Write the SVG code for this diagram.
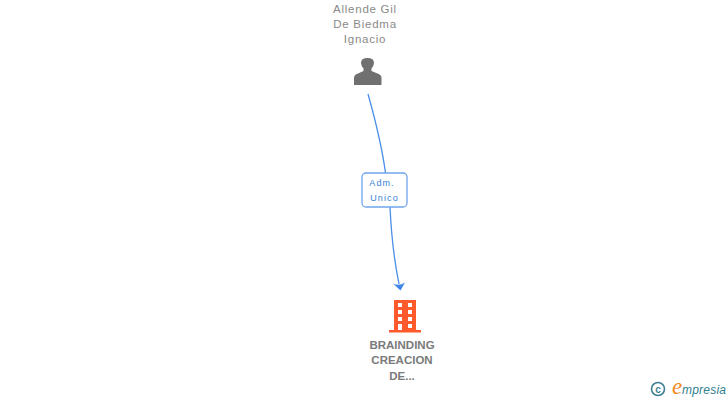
<svg xmlns="http://www.w3.org/2000/svg" width="728" height="400" viewBox="0 0 728 400">
<style>
.p{font:11.5px "Liberation Sans",Arial,sans-serif;fill:#8a8a8a;text-anchor:middle;letter-spacing:.75px}
.c{font:bold 11.5px "Liberation Sans",Arial,sans-serif;fill:#7a7a7a;text-anchor:middle}
.l{font:9px "Liberation Sans",Arial,sans-serif;fill:#3a7fd5;text-anchor:middle;letter-spacing:1.1px}
.e{fill:none;stroke:#4a8fe7;stroke-width:1.3}
</style>
<rect width="728" height="400" fill="#fff"/>
<g id="connectors">
<path class="e" d="M368 94Q381 140 385.500 173"/>
<path class="e" d="M390 207Q392 250 399 284"/>
<path d="M393 283.500Q399 286.500 405 282.500L400.500 290.500Z" fill="#3f86e8"/>
<g id="edge-label">
<rect x="362" y="173" width="45" height="34" rx="4" fill="#fff" stroke="#6fa5ee" stroke-width="1.300"/>
<text class="l" x="382" y="186">Adm.</text>
<text class="l" x="384.500" y="201">Unico</text>
</g>
</g>
<g id="person">
<text class="p" x="365" y="13">Allende Gil</text>
<text class="p" x="365" y="28">De Biedma</text>
<text class="p" x="365" y="43">Ignacio</text>
<path d="M354 85V78Q354 74.500 358 73.500L363.500 71V68.500Q361 65.500 361 63Q361 58 367.500 58Q374 58 374 63Q374 65.500 371.500 68.500V71L377.500 73.500Q381.500 74.500 381.500 78V85Z" fill="#707070"/>
</g>
<g id="company">
<path fill-rule="evenodd" fill="#ff5a2b" d="M394 300H416V330H421V332.500H389V330H394ZM398 303V307H402V303ZM408 303V307H412V303ZM398 310V314H402V310ZM408 310V314H412V310ZM398 317V321H402V317ZM408 317V321H412V317ZM398 324V330H402V324ZM408 324V328H412V324Z"/>
<text class="c" x="402" y="349">BRAINDING</text>
<text class="c" x="402" y="364">CREACION</text>
<text class="c" x="402" y="380">DE...</text>
</g>
<g id="logo">
<circle cx="658" cy="389" r="6.500" fill="none" stroke="#3f7f93" stroke-width="1.600"/>
<text x="658" y="392.500" font-family="Liberation Sans,sans-serif" font-size="10" font-weight="bold" fill="#3f7f93" text-anchor="middle">c</text>
<text x="677" y="394" font-family="Liberation Serif,serif" font-style="italic" font-size="23" fill="#f08a1d" text-anchor="middle">e</text>
<text x="682" y="394" font-family="Liberation Sans,sans-serif" font-style="italic" font-size="12" fill="#2f7f8f" textLength="44">mpresia</text>
</g>
</svg>
